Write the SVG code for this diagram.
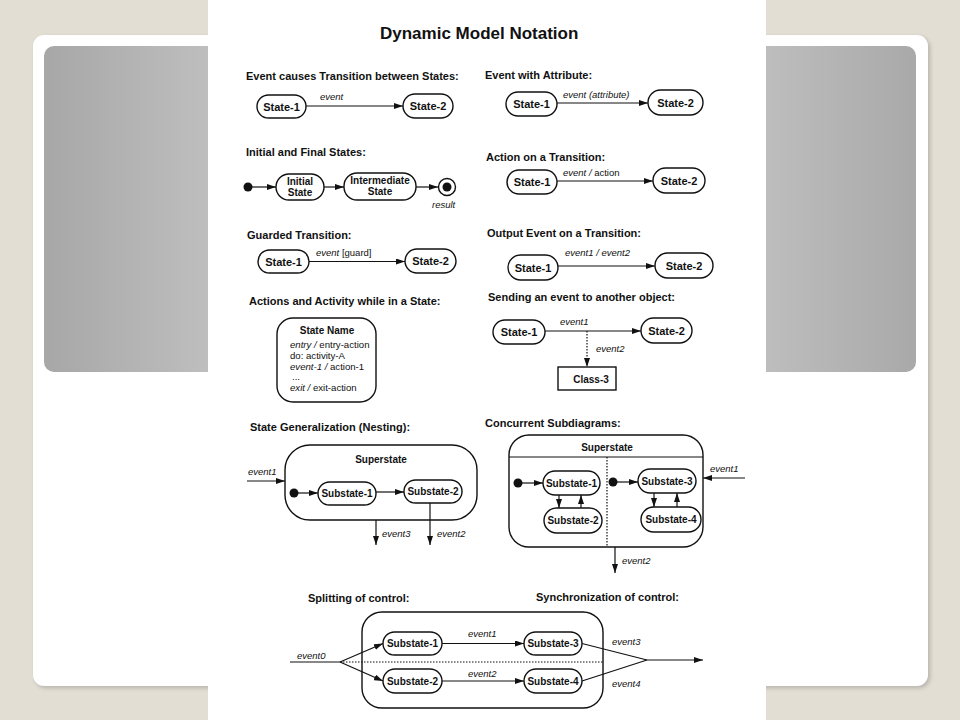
<svg xmlns="http://www.w3.org/2000/svg" width="960" height="720" viewBox="0 0 960 720">
<defs>
<linearGradient id="gray" x1="0" y1="0" x2="1" y2="0">
<stop offset="0" stop-color="#a7a7a7"/>
<stop offset="0.5" stop-color="#e4e4e4"/>
<stop offset="1" stop-color="#a9a9a9"/>
</linearGradient>
<filter id="sh" x="-5%" y="-5%" width="110%" height="110%"><feGaussianBlur stdDeviation="2"/></filter>
<marker id="ar" markerUnits="userSpaceOnUse" markerWidth="9" markerHeight="6" refX="9" refY="3" orient="auto"><path d="M0,0 L9,3 L0,6 z" fill="#111"/></marker>
<style>
.n{fill:#fff;stroke:#111;stroke-width:1.4}
.t{font-family:"Liberation Sans",Arial,sans-serif;fill:#111}
.h{font-weight:bold;font-size:11px}
.l{font-weight:bold;font-size:11px;text-anchor:middle}
.s{font-weight:bold;font-size:10px;text-anchor:middle}
.e{font-style:italic;font-size:9.5px}
.r{font-size:9.6px}
.c{stroke:#111;stroke-width:1.2;fill:none}
.a{marker-end:url(#ar)}
.d{stroke-dasharray:1.5 1.5}
</style>
</defs>
<rect width="960" height="720" fill="#e3ded3"/>
<rect x="35" y="37" width="895" height="651" rx="11" fill="#888" opacity="0.5" filter="url(#sh)"/>
<rect x="33" y="35" width="895" height="651" rx="11" fill="#fff"/>
<rect x="44" y="46" width="872" height="326" rx="10" fill="url(#gray)"/>
<rect x="208" y="0" width="558" height="720" fill="#fff"/>

<text class="t" x="380" y="39" font-weight="bold" font-size="17">Dynamic Model Notation</text>

<g id="headings" class="t h">
<text x="246" y="80">Event causes Transition between States:</text>
<text x="246" y="156">Initial and Final States:</text>
<text x="247" y="239">Guarded Transition:</text>
<text x="249" y="305">Actions and Activity while in a State:</text>
<text x="485" y="79">Event with Attribute:</text>
<text x="486" y="161">Action on a Transition:</text>
<text x="487" y="237">Output Event on a Transition:</text>
<text x="488" y="301">Sending an event to another object:</text>
<text x="250" y="431">State Generalization (Nesting):</text>
<text x="485" y="427">Concurrent Subdiagrams:</text>
<text x="308" y="602">Splitting of control:</text>
<text x="536" y="601">Synchronization of control:</text>
</g>

<g id="s1-state1"><rect class="n" x="257" y="95" width="49" height="23" rx="11.5"/><text class="t l" x="281.5" y="110.5">State-1</text></g>
<g id="s1-state2"><rect class="n" x="403" y="94" width="50" height="24" rx="12"/><text class="t l" x="428" y="110">State-2</text></g>

<g id="s2-initial-dot"><circle cx="248" cy="187" r="4.5" fill="#111"/></g>
<g id="s2-initial"><rect class="n" x="276" y="174" width="48" height="26" rx="13"/><text class="t s" x="300" y="185">Initial</text><text class="t s" x="300" y="196">State</text></g>
<g id="s2-intermediate"><rect class="n" x="344" y="173" width="72" height="27" rx="13"/><text class="t s" x="380" y="184">Intermediate</text><text class="t s" x="380" y="195">State</text></g>
<g id="s2-final"><circle cx="447" cy="187" r="8.5" fill="#fff" stroke="#111" stroke-width="1.4"/><circle cx="447" cy="187" r="4.5" fill="#111"/></g>

<g id="s3-state1"><rect class="n" x="258" y="250" width="51" height="23" rx="11.5"/><text class="t l" x="283.5" y="265.5">State-1</text></g>
<g id="s3-state2"><rect class="n" x="405" y="249" width="51" height="24" rx="12"/><text class="t l" x="430.5" y="265">State-2</text></g>

<g id="s4-state">
<rect class="n" x="277" y="318" width="99" height="84" rx="16"/>
<text class="t s" x="327" y="334">State Name</text>
<text class="t r" x="290" y="348"><tspan font-style="italic">entry /</tspan> entry-action</text>
<text class="t r" x="290" y="359">do: activity-A</text>
<text class="t r" x="290" y="370"><tspan font-style="italic">event-1 /</tspan> action-1</text>
<text class="t r" x="292" y="380" font-size="8">...</text>
<text class="t r" x="290" y="391"><tspan font-style="italic">exit /</tspan> exit-action</text>
</g>

<g id="r1-state1"><rect class="n" x="506" y="92" width="51" height="24" rx="12"/><text class="t l" x="531.5" y="108">State-1</text></g>
<g id="r1-state2"><rect class="n" x="648" y="90" width="55" height="25" rx="12.5"/><text class="t l" x="675.5" y="106.5">State-2</text></g>
<g id="r2-state1"><rect class="n" x="507" y="170" width="50" height="24" rx="12"/><text class="t l" x="532" y="186">State-1</text></g>
<g id="r2-state2"><rect class="n" x="653" y="168" width="52" height="25" rx="12.5"/><text class="t l" x="679" y="184.5">State-2</text></g>
<g id="r3-state1"><rect class="n" x="508" y="255" width="50" height="25" rx="12.5"/><text class="t l" x="533" y="271.5">State-1</text></g>
<g id="r3-state2"><rect class="n" x="655" y="253" width="58" height="25" rx="12.5"/><text class="t l" x="684" y="269.5">State-2</text></g>
<g id="r4-state1"><rect class="n" x="493" y="320" width="52" height="24" rx="12"/><text class="t l" x="519" y="336">State-1</text></g>
<g id="r4-state2"><rect class="n" x="641" y="318" width="51" height="25" rx="12.5"/><text class="t l" x="666.5" y="334.5">State-2</text></g>
<g id="r4-class3"><rect class="n" x="558" y="367" width="58" height="23"/><text class="t s" x="591" y="382.5">Class-3</text></g>

<g id="nest-super"><rect class="n" x="285" y="445" width="192" height="75" rx="25"/><text class="t s" x="381" y="463">Superstate</text></g>
<g id="nest-dot"><circle cx="294" cy="493" r="4.5" fill="#111"/></g>
<g id="nest-sub1"><rect class="n" x="318" y="482" width="58" height="23" rx="11.5"/><text class="t s" x="347" y="497">Substate-1</text></g>
<g id="nest-sub2"><rect class="n" x="404" y="480" width="58" height="23" rx="11.5"/><text class="t s" x="433" y="495">Substate-2</text></g>

<g id="conc-super">
<rect class="n" x="509" y="435" width="194" height="112" rx="20"/>
<line class="c" x1="509" y1="457" x2="703" y2="457"/>
<line class="c d" x1="607" y1="457" x2="607" y2="547"/>
<text class="t s" x="607" y="451">Superstate</text>
</g>
<g id="conc-dot1"><circle cx="518" cy="483" r="4.5" fill="#111"/></g>
<g id="conc-dot2"><circle cx="613" cy="482" r="4.5" fill="#111"/></g>
<g id="conc-sub1"><rect class="n" x="543" y="471" width="57" height="24" rx="12"/><text class="t s" x="571.5" y="486.5">Substate-1</text></g>
<g id="conc-sub2"><rect class="n" x="544" y="508" width="58" height="25" rx="12.5"/><text class="t s" x="573" y="524">Substate-2</text></g>
<g id="conc-sub3"><rect class="n" x="638" y="469" width="58" height="24" rx="12"/><text class="t s" x="667" y="484.5">Substate-3</text></g>
<g id="conc-sub4"><rect class="n" x="641" y="507" width="60" height="25" rx="12.5"/><text class="t s" x="671" y="523">Substate-4</text></g>

<g id="split-super">
<rect class="n" x="362" y="612" width="241" height="96" rx="20"/>
<line class="c d" x1="340" y1="662" x2="603" y2="662"/>
</g>
<g id="split-sub1"><rect class="n" x="383" y="632" width="59" height="23" rx="11.5"/><text class="t s" x="412.5" y="647">Substate-1</text></g>
<g id="split-sub3"><rect class="n" x="524" y="632" width="58" height="23" rx="11.5"/><text class="t s" x="553" y="647">Substate-3</text></g>
<g id="split-sub2"><rect class="n" x="383" y="669" width="59" height="24" rx="12"/><text class="t s" x="412.5" y="684.5">Substate-2</text></g>
<g id="split-sub4"><rect class="n" x="524" y="669" width="58" height="24" rx="12"/><text class="t s" x="553" y="684.5">Substate-4</text></g>

<g id="connectors">
<line class="c a" x1="306" y1="106" x2="403" y2="106"/>
<line class="c a" x1="252" y1="187" x2="276" y2="187"/>
<line class="c a" x1="324" y1="187" x2="344" y2="187"/>
<line class="c a" x1="416" y1="187" x2="438" y2="187"/>
<line class="c a" x1="309" y1="261.5" x2="405" y2="261.5"/>
<line class="c a" x1="557" y1="103" x2="648" y2="103"/>
<line class="c a" x1="557" y1="181" x2="653" y2="181"/>
<line class="c a" x1="558" y1="266" x2="655" y2="266"/>
<line class="c a" x1="545" y1="331" x2="641" y2="331"/>
<line class="c a d" x1="587" y1="331" x2="587" y2="367"/>
<line class="c a" x1="247" y1="481" x2="285" y2="481"/>
<line class="c a" x1="298" y1="493" x2="318" y2="493"/>
<line class="c a" x1="376" y1="492" x2="404" y2="492"/>
<line class="c a" x1="376" y1="520" x2="376" y2="545"/>
<line class="c a" x1="430" y1="503" x2="430" y2="545"/>
<line class="c a" x1="522" y1="483" x2="543" y2="483"/>
<line class="c a" x1="559" y1="495" x2="559" y2="508"/>
<line class="c a" x1="581" y1="508" x2="581" y2="495"/>
<line class="c a" x1="617" y1="482" x2="638" y2="482"/>
<line class="c a" x1="654" y1="493" x2="654" y2="507"/>
<line class="c a" x1="677" y1="507" x2="677" y2="493"/>
<line class="c a" x1="745" y1="478" x2="703" y2="478"/>
<line class="c a" x1="615" y1="547" x2="615" y2="573"/>
<line class="c" x1="290" y1="662" x2="340" y2="662"/>
<line class="c a" x1="340" y1="662" x2="383" y2="643.5"/>
<line class="c a" x1="340" y1="662" x2="383" y2="681"/>
<line class="c a" x1="442" y1="643.5" x2="524" y2="643.5"/>
<line class="c a" x1="442" y1="681" x2="524" y2="681"/>
<line class="c" x1="582" y1="643.5" x2="647" y2="660"/>
<line class="c" x1="582" y1="681" x2="647" y2="660"/>
<line class="c a" x1="647" y1="660" x2="703" y2="660"/>
</g>

<g id="labels" class="t e">
<text x="320" y="100">event</text>
<text x="432" y="208">result</text>
<text x="316" y="256">event <tspan font-style="normal">[guard]</tspan></text>
<text x="563" y="98">event (attribute)</text>
<text x="563" y="176">event / <tspan font-style="normal">action</tspan></text>
<text x="565" y="256">event1 / event2</text>
<text x="560" y="325">event1</text>
<text x="596" y="352">event2</text>
<text x="248" y="475">event1</text>
<text x="382" y="537">event3</text>
<text x="437" y="537">event2</text>
<text x="710" y="472">event1</text>
<text x="622" y="564">event2</text>
<text x="297" y="659">event0</text>
<text x="468" y="637">event1</text>
<text x="468" y="677">event2</text>
<text x="612" y="645">event3</text>
<text x="612" y="687">event4</text>
</g>
</svg>
